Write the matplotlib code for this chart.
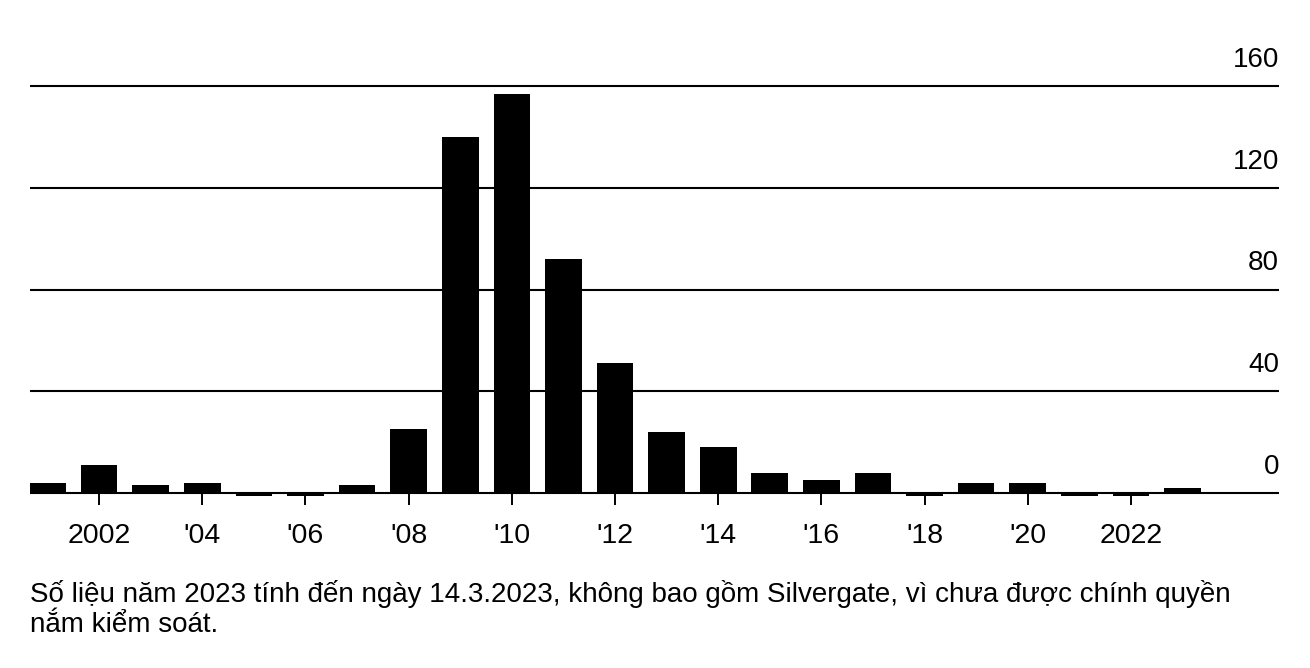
import matplotlib
matplotlib.use("Agg")
import matplotlib.pyplot as plt
from matplotlib.transforms import ScaledTranslation

years = list(range(2001, 2024))
failures = [4, 11, 3, 4, 0, 0, 3, 25, 140, 157, 92, 51, 24, 18, 8, 5, 8, 0, 4, 4, 0, 0, 2]
xtick_years = list(range(2002, 2023, 2))
xtick_labels = ["2002", "'04", "'06", "'08", "'10", "'12", "'14", "'16", "'18", "'20", "2022"]
yticks = [0, 40, 80, 120, 160]
note_lines = ["Số liệu năm 2023 tính đến ngày 14.3.2023, không bao gồm Silvergate, vì chưa được chính quyền",
              "nắm kiểm soát."]

plt.rcParams['font.family'] = ['Liberation Sans', 'DejaVu Sans']

W, H, DPI = 1310, 668, 100
fig = plt.figure(figsize=(W / DPI, H / DPI), dpi=DPI)

# axes geometry (pixels)
left_px, right_px = 30, 1279
ymin, ymax = -4, 175
zero_px, top_grid_px = 493, 86
ppu = (zero_px - top_grid_px) / 160
bot_px = zero_px + (0 - ymin) * ppu
top_px = top_grid_px - (ymax - 160) * ppu
ax = fig.add_axes([left_px / W, 1 - bot_px / H, (right_px - left_px) / W, (bot_px - top_px) / H])

stub = 1.2  # visual stub for zero-value years
heights = [v if v > 0 else -stub for v in failures]
ax.bar(years, heights, width=0.71, color='black', zorder=3)

for yv in yticks:
    ax.axhline(yv, color='black', lw=1.5, zorder=2)

ax.set_xlim(2000.66, 2024.87)
ax.set_ylim(ymin, ymax)

for s in ax.spines.values():
    s.set_visible(False)
ax.spines['bottom'].set_position(('data', 0))

ax.set_xticks(xtick_years)
ax.set_xticklabels(xtick_labels)
ax.tick_params(axis='x', length=8.6, width=1.4, color='black', pad=13, labelsize=20.5)
ax.xaxis.set_ticks_position('bottom')

ax.yaxis.tick_right()
ax.set_yticks(yticks)
ax.set_yticklabels([str(v) for v in yticks])
ax.tick_params(axis='y', length=0, pad=0, labelsize=20)
offset = ScaledTranslation(0, 19 / DPI, fig.dpi_scale_trans)
for lab in ax.get_yticklabels():
    lab.set_horizontalalignment('right')
    lab.set_verticalalignment('baseline')
    lab.set_transform(lab.get_transform() + offset)

ax.set_facecolor('none')

for i, line in enumerate(note_lines):
    fig.text(30 / W, 1 - (602 + 30 * i) / H, line, fontsize=20, ha='left', va='baseline',
             color='black')

fig.savefig("out.png", dpi=DPI, facecolor='white')
